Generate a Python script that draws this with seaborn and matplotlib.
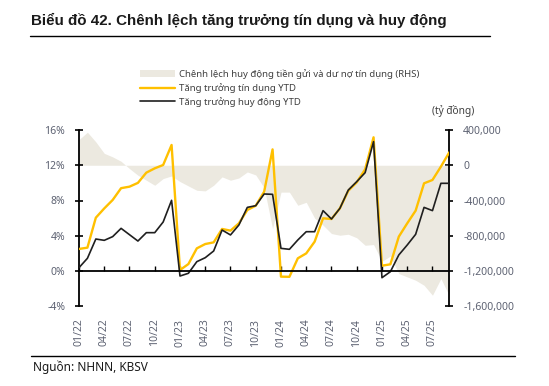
import numpy as np
import pandas as pd
import matplotlib
matplotlib.use("Agg")
import matplotlib.pyplot as plt
from matplotlib.lines import Line2D
from matplotlib.patches import Patch
from matplotlib.ticker import FuncFormatter
import seaborn as sns

months = ["01/22", "02/22", "03/22", "04/22", "05/22", "06/22", "07/22", "08/22", "09/22", "10/22", "11/22", "12/22",
          "01/23", "02/23", "03/23", "04/23", "05/23", "06/23", "07/23", "08/23", "09/23", "10/23", "11/23", "12/23",
          "01/24", "02/24", "03/24", "04/24", "05/24", "06/24", "07/24", "08/24", "09/24", "10/24", "11/24", "12/24",
          "01/25", "02/25", "03/25", "04/25", "05/25", "06/25", "07/25", "08/25", "09/25"]

credit_ytd = [2.5, 2.65, 6.05, 7.1, 8.06, 9.4, 9.57, 10.0, 11.16, 11.65, 12.03, 14.3,
              0.11, 0.79, 2.57, 3.06, 3.25, 4.77, 4.58, 5.41, 6.92, 7.41, 9.0, 13.8,
              -0.64, -0.66, 1.44, 2.0, 3.33, 5.98, 5.9, 7.11, 9.11, 10.06, 11.54, 15.17,
              0.6, 0.76, 3.9, 5.41, 6.85, 9.95, 10.33, 11.84, 13.47]

deposit_ytd = [0.38, 1.44, 3.63, 3.48, 3.9, 4.84, 4.12, 3.4, 4.35, 4.35, 5.56, 8.02,
               -0.57, -0.26, 1.06, 1.51, 2.27, 4.65, 4.09, 5.22, 7.22, 7.41, 8.74, 8.7,
               2.57, 2.46, 3.52, 4.46, 4.46, 6.85, 5.9, 7.11, 9.19, 10.14, 11.16, 14.68,
               -0.76, -0.08, 1.82, 2.95, 4.16, 7.22, 6.85, 9.95, 9.95]

gap_rhs = [291000, 375000, 265000, 135000, 95000, 45000, -38000, -113000, -170000, -227000, -151000, -121000,
           -185000, -235000, -284000, -291000, -227000, -132000, -170000, -144000, -76000, -110000, -255000, -720000,
           -305000, -305000, -454000, -420000, -600000, -680000, -775000, -794000, -783000, -823000, -908000, -900000,
           -1090000, -1030000, -1229000, -1267000, -1305000, -1362000, -1475000, -1286000, -1480000]

tick_labels = months[::3]

label_area = "Chênh lệch huy động tiền gửi và dư nợ tín dụng (RHS)"
label_credit = "Tăng trưởng tín dụng YTD"
label_deposit = "Tăng trưởng huy động YTD"

df = pd.DataFrame({"idx": np.arange(len(months)), "month": months,
                   "credit": credit_ytd, "deposit": deposit_ytd, "gap": gap_rhs})

sns.set_theme(style="white")
plt.rcParams["font.family"] = ["Noto Sans", "DejaVu Sans"]

YELLOW = "#FFC000"
BLACK = "#1f1f1f"
BEIGE = "#ECE9E0"
TICKC = "#5d6272"

fig = plt.figure(figsize=(5.49, 3.86), dpi=100)
W, H = 549, 386
ax = fig.add_axes([79 / W, 1 - 306.25 / H, (449.3 - 79) / W, (306.25 - 130) / H])
ax2 = ax.twinx()

# area on the right axis
ax2.fill_between(df["idx"], 0, df["gap"], color=BEIGE, lw=0, zorder=1)
ax2.set_ylim(-1600000, 400000)
ax2.set_yticks(np.arange(-1600000, 400001, 400000))
ax2.yaxis.set_major_formatter(FuncFormatter(lambda v, p: f"{int(v):,}"))

# lines on the left axis
ax.set_zorder(ax2.get_zorder() + 1)
ax.patch.set_visible(False)
sns.lineplot(data=df, x="idx", y="credit", ax=ax, color=YELLOW, lw=1.7, zorder=3)
sns.lineplot(data=df, x="idx", y="deposit", ax=ax, color=BLACK, lw=1.2, zorder=4)
ax.set_ylim(-4, 16)
ax.set_yticks(np.arange(-4, 17, 4))
ax.yaxis.set_major_formatter(FuncFormatter(lambda v, p: f"{int(v)}%"))
ax.set_xlim(0, len(months) - 1)
ax.set_xlabel("")
ax.set_ylabel("")
ax2.set_ylabel("")

# spines
for s in ["top", "right"]:
    ax.spines[s].set_visible(False)
ax.spines["left"].set_color("black")
ax.spines["left"].set_linewidth(1.3)
ax.spines["bottom"].set_position(("data", 0))
ax.spines["bottom"].set_color("black")
ax.spines["bottom"].set_linewidth(1.3)
ax.spines["bottom"].set_zorder(5)
for s in ["top", "left", "bottom"]:
    ax2.spines[s].set_visible(False)
ax2.spines["right"].set_color("black")
ax2.spines["right"].set_linewidth(1.3)

ax.set_xticks(df["idx"][::3])
ax.tick_params(axis="x", direction="in", length=3.5, width=1, color="black",
               bottom=True, labelbottom=False)
ax.tick_params(axis="y", direction="inout", length=6, width=1.2, color="black",
               left=True, labelsize=7.5, labelcolor=TICKC, pad=7)
ax2.tick_params(axis="y", direction="inout", length=6, width=1.2, color="black",
                right=True, labelsize=7.5, labelcolor=TICKC, pad=7)

# x tick labels at the bottom, via the twin's x axis
ax2.xaxis.set_visible(True)
ax2.set_xticks(df["idx"][::3])
ax2.set_xticklabels(tick_labels, rotation=90)
ax2.tick_params(axis="x", bottom=True, length=0, labelsize=7.5, labelcolor=TICKC, pad=9)
ax2.set_xlim(0, len(months) - 1)

# legend
handles = [Patch(facecolor=BEIGE, edgecolor="none"),
           Line2D([0], [0], color=YELLOW, lw=1.7),
           Line2D([0], [0], color=BLACK, lw=1.2)]
leg = fig.legend(handles, [label_area, label_credit, label_deposit],
                 loc="upper left", bbox_to_anchor=(140 / W, 1 - 69 / H),
                 frameon=False, fontsize=6.9, handlelength=3.7, handleheight=0.6,
                 handletextpad=0.4, labelspacing=0.42, borderaxespad=0, borderpad=0)
for t in leg.get_texts():
    t.set_color("#404040")

fig.text(432 / W, 1 - 111 / H, "(tỷ đồng)", fontsize=7.3, color="#404040", va="center", ha="left")

# title
fig.text(31 / W, 1 - 20 / H, "Biểu đồ 42. Chênh lệch tăng trưởng tín dụng và huy động",
         fontsize=10.9, fontweight="bold", color="#1a1a1a", va="center", ha="left",
         family=["Liberation Sans", "DejaVu Sans"])
fig.add_artist(Line2D([30 / W, 490 / W], [1 - 36 / H, 1 - 36 / H], color="black", lw=1.0))

# footer
fig.add_artist(Line2D([31 / W, 515 / W], [1 - 356 / H, 1 - 356 / H], color="black", lw=1.0))
fig.text(33 / W, 1 - 367 / H, "Nguồn: NHNN, KBSV", fontsize=8.5, color="#1a1a1a", va="center", ha="left")

fig.savefig("out.png", dpi=100)
